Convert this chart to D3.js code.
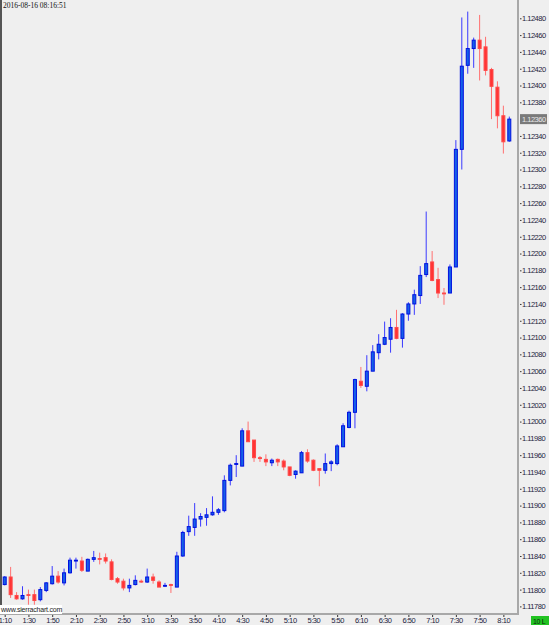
<!DOCTYPE html>
<html>
<head>
<meta charset="utf-8">
<script src="https://cdn.jsdelivr.net/npm/d3@7"></script>
<style>
  body { margin: 0; background: #efefef; }
  svg { display: block; }
</style>
</head>
<body>
<script>
// 5 minute bars, 1:10 .. 8:15
var opens = [1.11806,1.11815,1.11793,1.11789,1.11794,1.11794,1.11788,1.11799,1.11807,1.11816,
  1.11808,1.11820,1.11834,1.11834,1.11822,1.11836,1.11837,1.11838,1.11833,1.11813,
  1.11810,1.11802,1.11806,1.11810,1.11809,1.11815,1.11809,1.11804,1.11806,1.11803,
  1.11840,1.11869,1.11874,1.11884,1.11886,1.11889,1.11892,1.11894,1.11930,1.11949,
  1.11947,1.11989,1.11978,1.11957,1.11955,1.11951,1.11955,1.11953,1.11946,1.11937,
  1.11939,1.11963,1.11954,1.11944,1.11942,1.11950,1.11950,1.11970,1.11993,1.12011,
  1.12048,1.12042,1.12060,1.12082,1.12092,1.12098,1.12112,1.12099,1.12128,1.12140,
  1.12150,1.12175,1.12190,1.12169,1.12153,1.12153,1.12184,1.12324,1.12424,1.12444,
  1.12454,1.12446,1.12419,1.12398,1.12364,1.12334];
var highs = [1.11816,1.11827,1.11797,1.11804,1.11800,1.11800,1.11803,1.11809,1.11828,1.11822,
  1.11825,1.11838,1.11838,1.11839,1.11837,1.11846,1.11844,1.11843,1.11836,1.11815,
  1.11813,1.11813,1.11817,1.11812,1.11825,1.11819,1.11811,1.11808,1.11807,1.11845,
  1.11870,1.11888,1.11903,1.11891,1.11897,1.11911,1.11897,1.11936,1.11950,1.11960,
  1.11992,1.12000,1.11978,1.11959,1.11961,1.11956,1.11956,1.11955,1.11946,1.11942,
  1.11965,1.11967,1.11955,1.11944,1.11962,1.11954,1.11973,1.11998,1.12013,1.12051,
  1.12065,1.12079,1.12091,1.12104,1.12119,1.12123,1.12133,1.12129,1.12142,1.12157,
  1.12185,1.12250,1.12203,1.12183,1.12159,1.12187,1.12335,1.12481,1.12488,1.12457,
  1.12484,1.12458,1.12421,1.12405,1.12376,1.12363];
var lows = [1.11805,1.11790,1.11788,1.11788,1.11782,1.11782,1.11786,1.11797,1.11806,1.11807,
  1.11805,1.11819,1.11825,1.11821,1.11822,1.11833,1.11830,1.11831,1.11811,1.11807,
  1.11799,1.11797,1.11805,1.11808,1.11808,1.11807,1.11803,1.11803,1.11796,1.11803,
  1.11839,1.11864,1.11864,1.11875,1.11876,1.11888,1.11889,1.11892,1.11924,1.11934,
  1.11947,1.11976,1.11952,1.11952,1.11947,1.11947,1.11947,1.11942,1.11935,1.11932,
  1.11939,1.11951,1.11941,1.11923,1.11938,1.11941,1.11948,1.11970,1.11992,1.11992,
  1.12040,1.12036,1.12060,1.12074,1.12091,1.12082,1.12098,1.12088,1.12120,1.12127,
  1.12140,1.12172,1.12167,1.12147,1.12139,1.12153,1.12184,1.12300,1.12414,1.12421,
  1.12406,1.12412,1.12360,1.12349,1.12319,1.12333];
var closes = [1.11815,1.11794,1.11789,1.11793,1.11793,1.11787,1.11800,1.11808,1.11816,1.11809,
  1.11820,1.11835,1.11835,1.11823,1.11836,1.11838,1.11836,1.11834,1.11812,1.11809,
  1.11802,1.11805,1.11811,1.11809,1.11815,1.11811,1.11803,1.11805,1.11805,1.11840,
  1.11868,1.11875,1.11884,1.11887,1.11889,1.11892,1.11895,1.11930,1.11948,1.11950,
  1.11989,1.11976,1.11957,1.11956,1.11952,1.11954,1.11952,1.11946,1.11936,1.11941,
  1.11963,1.11953,1.11942,1.11942,1.11950,1.11952,1.11971,1.11995,1.12011,1.12050,
  1.12043,1.12060,1.12083,1.12092,1.12100,1.12112,1.12099,1.12128,1.12140,1.12151,
  1.12174,1.12188,1.12168,1.12153,1.12152,1.12184,1.12324,1.12423,1.12444,1.12454,
  1.12444,1.12418,1.12399,1.12364,1.12333,1.12360];

var timeLabels = ["1:10","1:30","1:50","2:10","2:30","2:50","3:10","3:30","3:50","4:10","4:30",
  "4:50","5:10","5:30","5:50","6:10","6:30","6:50","7:10","7:30","7:50","8:10"];
var barsPerLabel = 4;
var lastPrice = 1.12360;
var stamp = "2016-08-16 08:16:51";

var W = 549, H = 625;
var plotRight = 517, plotBottom = 613;
var labelFont = "Liberation Sans, Arial, sans-serif";

var svg = d3.select("body").append("svg")
    .attr("width", W)
    .attr("height", H)
    .style("background", "#efefef");

var x = d3.scaleLinear()
    .domain([0, opens.length - 1])
    .range([4.7, 509.3]);

var y = d3.scaleLinear()
    .domain([1.11780, 1.12480])
    .range([606.4, 18.3]);

// right price axis
var yTicks = d3.range(0, 36).map(function (i) { return +(1.11780 + i * 0.0002).toFixed(5); });
var yAxis = d3.axisRight(y)
    .tickValues(yTicks)
    .tickFormat(d3.format(".5f"))
    .tickSize(2)
    .tickPadding(1);

var gy = svg.append("g")
    .attr("transform", "translate(" + (plotRight + 2) + ",0)")
    .call(yAxis);
gy.select(".domain").remove();
gy.selectAll(".tick line").attr("stroke", "#333").attr("x1", 1).attr("x2", 2.5);
gy.selectAll(".tick text")
    .attr("fill", "#1c1c3c")
    .style("font-family", labelFont)
    .style("font-size", "7.5px")
    .style("letter-spacing", "-0.5px");

// bottom time axis
var xAxis = d3.axisBottom(x)
    .tickValues(timeLabels.map(function (d, i) { return i * barsPerLabel; }))
    .tickFormat(function (d, i) { return timeLabels[i]; })
    .tickSize(3)
    .tickPadding(1);

var gx = svg.append("g")
    .attr("transform", "translate(0," + (plotBottom + 1) + ")")
    .call(xAxis);
gx.select(".domain").remove();
gx.selectAll(".tick line").attr("stroke", "#333");
gx.selectAll(".tick text")
    .attr("fill", "#1c1c3c")
    .style("font-family", labelFont)
    .style("font-size", "7.5px")
    .style("letter-spacing", "-0.4px");

// frame lines
svg.append("rect").attr("x", plotRight).attr("y", 0).attr("width", 2).attr("height", plotBottom + 1).attr("fill", "#a8a8a8");
svg.append("rect").attr("x", 0).attr("y", plotBottom).attr("width", plotRight + 2).attr("height", 2).attr("fill", "#a8a8a8");
svg.append("rect").attr("x", 0).attr("y", 0).attr("width", 2).attr("height", plotBottom).attr("fill", "#555");

// candles
var bars = d3.range(opens.length).map(function (i) {
    return { i: i, o: opens[i], h: highs[i], l: lows[i], c: closes[i] };
});

var candle = svg.append("g").selectAll("g")
    .data(bars)
    .join("g");

candle.append("line")
    .attr("x1", function (d) { return x(d.i); })
    .attr("x2", function (d) { return x(d.i); })
    .attr("y1", function (d) { return y(d.h); })
    .attr("y2", function (d) { return y(d.l); })
    .attr("stroke", function (d) { return d.c >= d.o ? "#3a3aff" : "#ff7070"; })
    .attr("stroke-width", 1);

candle.append("rect")
    .attr("x", function (d) { return x(d.i) - 1.5; })
    .attr("width", 3)
    .attr("y", function (d) { return y(Math.max(d.o, d.c)); })
    .attr("height", function (d) { return Math.max(0.8, Math.abs(y(d.o) - y(d.c))); })
    .attr("fill", function (d) { return d.c >= d.o ? "#1560e8" : "#ff3434"; })
    .attr("stroke", function (d) { return d.c >= d.o ? "#0010e0" : "#ff4a4a"; })
    .attr("stroke-width", 1);

// last price marker
var lp = svg.append("g").attr("transform", "translate(" + (plotRight + 3) + "," + y(lastPrice) + ")");
lp.append("rect").attr("x", 0).attr("y", -5).attr("width", 27).attr("height", 10).attr("fill", "#7a7a7a");
lp.append("text")
    .attr("x", 2).attr("dy", "0.32em")
    .attr("fill", "#e8e8e8")
    .style("font-family", labelFont)
    .style("font-size", "7.5px")
    .style("letter-spacing", "-0.5px")
    .text(d3.format(".5f")(lastPrice));

// time stamp
svg.append("text")
    .attr("x", 3).attr("y", 8)
    .attr("fill", "#111")
    .style("font-family", "Liberation Serif, Times New Roman, serif")
    .style("font-size", "7.5px")
    .text(stamp);

// watermark
svg.append("rect").attr("x", 0).attr("y", 605).attr("width", 62).attr("height", 9).attr("fill", "#fff");
svg.append("text")
    .attr("x", 1).attr("y", 612)
    .attr("fill", "#222")
    .style("font-family", labelFont)
    .style("font-size", "7px")
    .style("letter-spacing", "-0.2px")
    .text("www.sierrachart.com");

// status box
svg.append("rect").attr("x", 531).attr("y", 616).attr("width", 18).attr("height", 9).attr("fill", "#22c322");
svg.append("text")
    .attr("x", 533).attr("y", 623.5)
    .attr("fill", "#102010")
    .style("font-family", labelFont)
    .style("font-size", "7px")
    .style("letter-spacing", "-0.3px")
    .text("10 L");
</script>
</body>
</html>
